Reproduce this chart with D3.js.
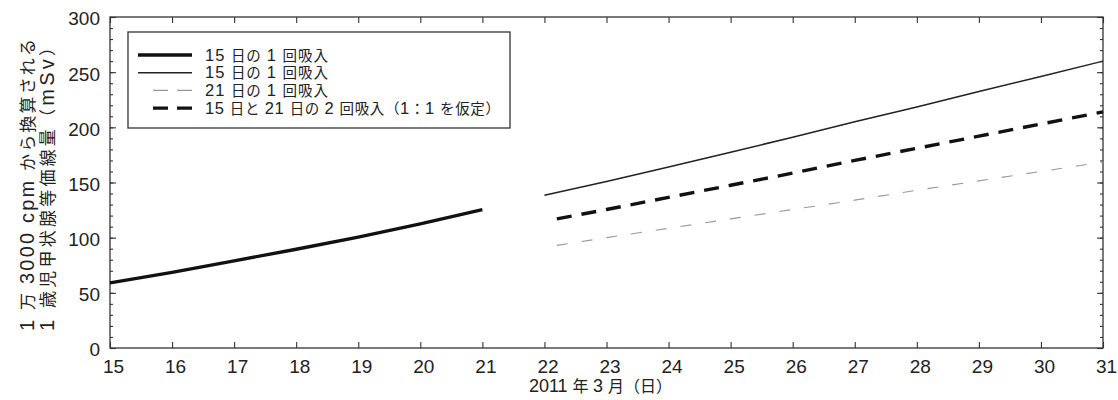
<!DOCTYPE html>
<html><head><meta charset="utf-8">
<script src="https://cdn.jsdelivr.net/npm/d3@7"></script>
<style>
html,body{margin:0;padding:0;background:#fff;}
svg{display:block;}
text{font-family:"Liberation Sans","Noto Sans CJK JP",sans-serif;fill:#222;}
</style></head>
<body>
<svg id="c" width="1118" height="400"></svg>
<script>
// ---- data ----
const dayTicks = [15,16,17,18,19,20,21,22,23,24,25,26,27,28,29,30,31];
const yMajorTicks = [0,50,100,150,200,250,300];
const yMinorTicks = d3.range(0,301,10);

const thickSolidDays = [15,16,17,18,19,20,21];
const thickSolidVals = [59,68.5,79,89.5,100.5,112.5,125.5];

const thinSolidDays = [22,23,24,25,26,27,28,29,30,31];
const thinSolidVals = [138.5,151,164,177.5,191,205,218.5,232.5,246,260];

const dashedDays = [22.2,23,24,25,26,27,28,29,30,31];
const thinDashedVals = [93,100,108.5,117,125.5,134,143,151.5,160,168.5];
const thickDashedVals = [117,125.5,136.5,147.5,158.5,170,181,192,203,214];

const legendLabels = [
  "15 日の 1 回吸入",
  "15 日の 1 回吸入",
  "21 日の 1 回吸入",
  "15 日と 21 日の 2 回吸入（1：1 を仮定）"
];
const yTitleLines = ["1 万 3000 cpm から換算される", "1 歳児甲状腺等価線量（mSv）"];
const xTitle = "2011 年 3 月（日）";

// ---- layout ----
const W = 1118, H = 400;
const m = {left:110, right:15, top:17, bottom:52};
const svg = d3.select("#c");
const x = d3.scaleLinear().domain([15,31]).range([m.left, W-m.right]);
const y = d3.scaleLinear().domain([0,300]).range([H-m.bottom, m.top]);

const styles = [
  {w:3.4, c:"#111", dash:null},
  {w:1.5, c:"#222", dash:null},
  {w:1.1, c:"#999", dash:"11,14"},
  {w:3.4, c:"#111", dash:"15,10"}
];

// mixed-size text: Latin runs larger than CJK runs (as in the typeset original)
const cjkRe = /[\u3000-\u30ff\u4e00-\u9fff\uff00-\uffef]/;
function mixedText(sel, str, latinSize, cjkSize){
  const runs = [];
  for (const ch of str){
    const isC = cjkRe.test(ch) || (ch===" " && runs.length && runs[runs.length-1].c);
    if (runs.length && runs[runs.length-1].c===isC) runs[runs.length-1].t += ch;
    else runs.push({c:isC, t:ch});
  }
  runs.forEach(r=>{
    sel.append("tspan").style("font-size", (r.c?cjkSize:latinSize)+"px").text(r.t);
  });
  return sel;
}

// axes (ticks inward)
const axisFont = "19px";
const gL = svg.append("g").attr("transform",`translate(${m.left},0)`)
  .call(d3.axisLeft(y).tickValues(yMajorTicks).tickSize(-6).tickPadding(10));
gL.selectAll("text").style("font-size",axisFont).attr("dy","0.42em");
svg.append("g").attr("transform",`translate(${m.left},0)`)
  .call(d3.axisLeft(y).tickValues(yMinorTicks).tickSize(-3).tickFormat(""));
svg.append("g").attr("transform",`translate(${W-m.right},0)`)
  .call(d3.axisRight(y).tickValues(yMajorTicks).tickSize(-6).tickFormat(""));
svg.append("g").attr("transform",`translate(${W-m.right},0)`)
  .call(d3.axisRight(y).tickValues(yMinorTicks).tickSize(-3).tickFormat(""));
const gB = svg.append("g").attr("transform",`translate(0,${H-m.bottom})`)
  .call(d3.axisBottom(x).tickValues(dayTicks).tickSize(-6).tickPadding(12).tickFormat(d3.format("d")));
gB.selectAll("text").style("font-size",axisFont).attr("dx","3");
svg.append("g").attr("transform",`translate(0,${m.top})`)
  .call(d3.axisTop(x).tickValues(dayTicks).tickSize(-6).tickFormat(""));
svg.selectAll(".domain").remove();
svg.selectAll(".tick line").attr("stroke","#333").attr("stroke-width",1.1);

// frame
svg.append("rect").attr("x",m.left).attr("y",m.top)
  .attr("width",W-m.left-m.right).attr("height",H-m.top-m.bottom)
  .attr("fill","none").attr("stroke","#333").attr("stroke-width",1.3);

// lines
const line = d3.line().x(d=>x(d[0])).y(d=>y(d[1]));
const seriesData = [
  d3.zip(thickSolidDays, thickSolidVals),
  d3.zip(thinSolidDays, thinSolidVals),
  d3.zip(dashedDays, thinDashedVals),
  d3.zip(dashedDays, thickDashedVals)
];
seriesData.forEach((d,i)=>{
  const s = styles[i];
  svg.append("path").datum(d).attr("d",line).attr("fill","none")
    .attr("stroke",s.c).attr("stroke-width",s.w)
    .attr("stroke-dasharray",s.dash);
});

// legend
const lg = svg.append("g");
lg.append("rect").attr("x",128).attr("y",32).attr("width",382).attr("height",96)
  .attr("fill","#fff").attr("stroke","#333").attr("stroke-width",1.3);
const legendStyles = [
  {x1:138, dash:null}, {x1:138, dash:null}, {x1:153, dash:"15,9"}, {x1:153, dash:"15,9"}
];
const legendLens = [123,123,123,295];
legendLabels.forEach((t,i)=>{
  const yy = 55 + i*17.7;
  const s = styles[i];
  lg.append("line").attr("x1",legendStyles[i].x1).attr("x2",192).attr("y1",yy).attr("y2",yy)
    .attr("stroke",s.c).attr("stroke-width",s.w).attr("stroke-dasharray",legendStyles[i].dash);
  const tx = lg.append("text").attr("x",205).attr("y",yy+5.5)
    .attr("textLength",legendLens[i]).attr("lengthAdjust","spacing");
  mixedText(tx, t, 16.5, 14.5);
});

// y title (rotated)
yTitleLines.forEach((t,i)=>{
  const tx = svg.append("text")
    .attr("transform",`translate(${34 + i*20},331) rotate(-90)`)
    .attr("text-anchor","start")
    .attr("textLength", 292)
    .attr("lengthAdjust","spacing");
  mixedText(tx, t, 20, 17);
});

// x title
const xt = svg.append("text").attr("x",(m.left + W - m.right)/2 - 6).attr("y",392)
  .attr("text-anchor","middle");
mixedText(xt, xTitle, 18, 16);
</script>
</body></html>
